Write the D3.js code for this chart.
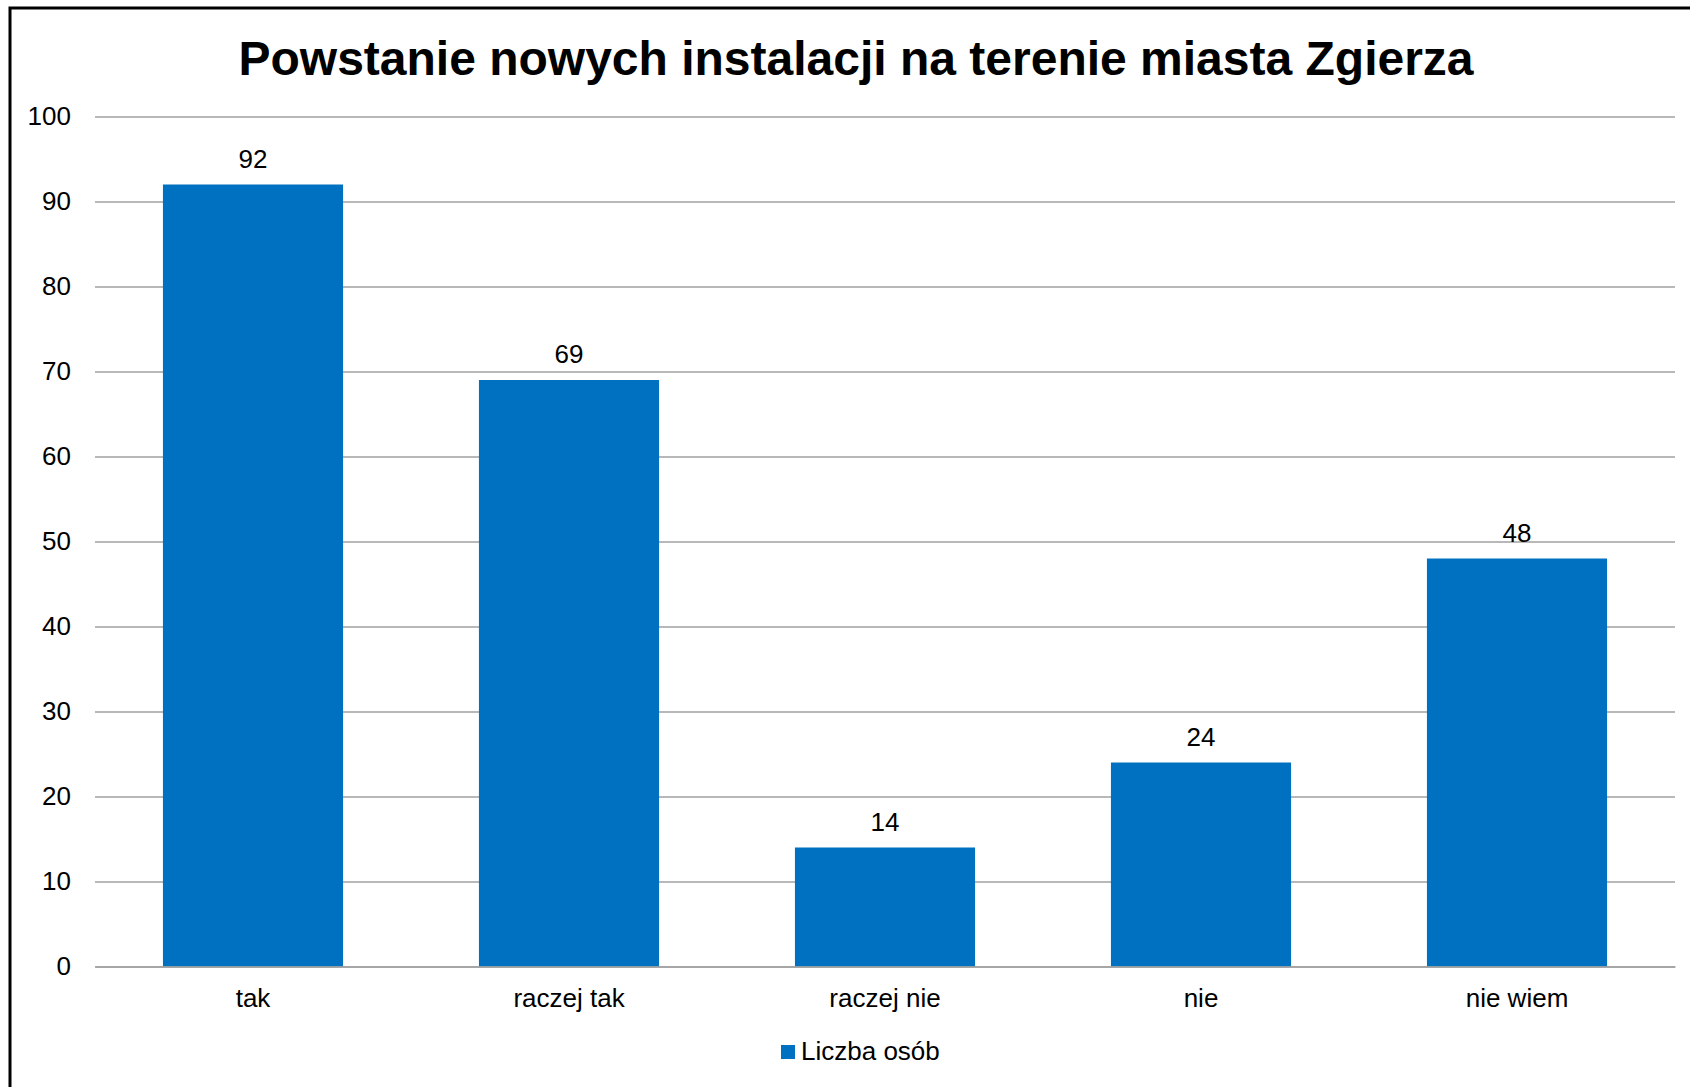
<!DOCTYPE html>
<html><head><meta charset="utf-8">
<script src="https://cdn.jsdelivr.net/npm/d3@7"></script>
<style>body{margin:0;background:#fff}svg{display:block}text{font-family:"Liberation Sans",Arial,sans-serif}</style>
</head><body>
<script>
const categories = ["tak","raczej tak","raczej nie","nie","nie wiem"];
const values = [92,69,14,24,48];
const yTicks = [0,10,20,30,40,50,60,70,80,90,100];
const title = "Powstanie nowych instalacji na terenie miasta Zgierza";
const seriesName = "Liczba osób";

const W=1690,H=1087;
const svg=d3.select("body").append("svg").attr("width",W).attr("height",H);
svg.append("rect").attr("x",10).attr("y",8).attr("width",W+20).attr("height",H+20)
  .attr("fill","#fff").attr("stroke","#000").attr("stroke-width",3);

const L=95,R=1675,T=116.5,B=966.5;
const x=d3.scaleBand().domain(categories).range([L,R]).paddingInner(0.43).paddingOuter(0.215);
const y=d3.scaleLinear().domain([0,100]).range([B,T]);

const yAxis=svg.append("g").attr("transform",`translate(${L},0)`)
  .call(d3.axisLeft(y).tickValues(yTicks).tickSize(-(R-L)).tickPadding(24));
yAxis.select(".domain").remove();
yAxis.selectAll(".tick line").attr("stroke","#a0a0a0").attr("stroke-width",1.5);
yAxis.selectAll(".tick text").attr("font-size",26).attr("fill","#000");

svg.selectAll(".bar").data(values).join("rect")
  .attr("x",(d,i)=>x(categories[i])).attr("width",x.bandwidth())
  .attr("y",d=>y(d)).attr("height",d=>B-y(d)).attr("fill","#0070C0");

svg.selectAll(".val").data(values).join("text")
  .attr("x",(d,i)=>x(categories[i])+x.bandwidth()/2).attr("y",d=>y(d)-17)
  .attr("text-anchor","middle").attr("font-size",26).attr("fill","#000").text(d=>d);

const xAxis=svg.append("g").attr("transform",`translate(0,${B})`)
  .call(d3.axisBottom(x).tickSize(0).tickPadding(22));
xAxis.select(".domain").attr("stroke","#a0a0a0").attr("stroke-width",1.5);
xAxis.selectAll(".tick text").attr("font-size",26).attr("fill","#000");

svg.append("text").attr("x",856).attr("y",75).attr("text-anchor","middle")
  .attr("font-size",48).attr("font-weight","bold").attr("fill","#000").text(title);

svg.append("rect").attr("x",781).attr("y",1045).attr("width",14).attr("height",14).attr("fill","#0070C0");
svg.append("text").attr("x",801).attr("y",1060).attr("font-size",26).attr("fill","#000").text(seriesName);
</script>
</body></html>
